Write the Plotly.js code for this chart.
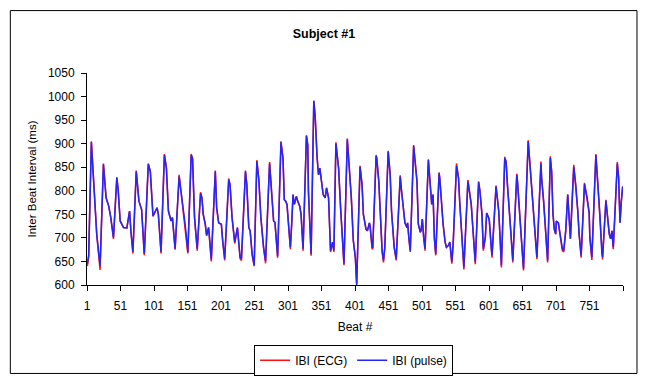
<!DOCTYPE html>
<html>
<head>
<meta charset="utf-8">
<script src="https://cdn.plot.ly/plotly-3.0.1.min.js"></script>
<style>html,body{margin:0;padding:0;background:#fff;}#chart{width:648px;height:388px;}</style>
</head>
<body>
<div id="chart"></div>
<script>
const beatNumbers = [
  1,3,7,15,20,25,29,33,36,39,
  40,45,47,50,55,60,64,66,69,74,
  78,82,86,92,95,99,101,105,107,111,
  116,119,122,126,128,132,138,142,146,147,
  151,156,158,161,165,170,172,174,177,179,
  182,183,186,192,194,197,201,203,206,212,
  214,217,221,225,229,231,237,239,242,244,
  247,250,254,257,260,264,267,273,276,279,
  281,284,285,290,293,295,297,299,301,304,
  306,308,310,313,315,318,320,323,328,330,
  331,334,335,339,341,344,346,348,351,353,
  356,358,361,362,364,367,369,372,376,379,
  382,384,389,392,395,398,401,403,408,411,
  413,417,419,422,423,426,427,432,433,436,
  438,439,441,443,445,450,453,455,458,459,
  462,468,470,473,475,478,479,481,483,488,
  490,493,495,498,499,501,503,505,510,513,
  515,517,519,521,526,527,530,532,535,537,
  540,542,545,547,552,555,557,560,562,563,
  569,571,574,576,580,585,587,590,592,595,
  597,600,601,604,605,611,613,615,617,619,
  624,626,628,631,633,636,642,643,647,649,
  652,659,661,663,666,668,671,672,678,679,
  682,684,687,688,692,694,696,698,700,701,
  704,705,708,710,712,715,718,720,722,727,
  730,733,735,738,743,745,747,750,751,754,
  760,761,764,766,769,770,775,777,780,782,
  784,786,792,794,796,798,800
];

const ibiPulse = [
  645,663,903,708,640,856,785,767,743,708,
  701,827,802,736,722,721,757,715,670,841,
  778,760,666,856,841,746,753,764,750,670,
  876,848,757,736,743,677,830,785,740,729,
  670,876,869,743,677,795,785,750,729,705,
  722,705,654,841,764,732,729,694,656,823,
  813,743,691,722,659,656,841,813,722,715,
  666,642,863,823,743,680,651,858,790,736,
  733,677,661,903,869,781,778,771,729,680,
  729,792,771,788,778,767,750,677,916,897,
  799,673,666,991,959,869,834,848,813,792,
  785,806,785,729,673,691,673,900,848,764,
  687,645,909,848,785,694,659,600,851,813,
  750,718,715,732,725,680,680,874,869,820,
  764,729,673,652,680,883,834,757,708,680,
  656,830,799,757,732,722,732,698,673,895,
  869,820,729,712,715,740,701,677,865,813,
  771,792,698,666,837,827,764,729,691,680,
  684,691,649,687,853,827,771,700,659,638,
  820,799,771,729,649,818,799,750,677,701,
  753,743,736,677,663,809,778,757,701,642,
  869,862,813,760,715,652,834,820,736,694,
  635,905,869,817,760,729,670,659,858,827,
  778,729,659,652,870,841,750,718,708,736,
  732,722,701,677,673,715,792,743,698,851,
  813,757,708,663,814,799,785,753,701,659,
  876,855,799,750,666,659,779,753,708,698,
  715,680,858,827,732,778,809
];

const ibiEcg = [
  640,660,905,708,632,858,785,767,743,706,
  698,829,802,736,722,721,757,715,667,843,
  778,760,663,858,841,746,753,764,750,667,
  878,848,757,736,743,675,834,785,740,729,
  667,878,869,743,673,797,785,750,729,705,
  722,705,650,843,764,732,729,694,652,826,
  813,743,688,722,656,652,843,813,722,715,
  663,640,865,823,743,680,646,861,790,736,
  733,675,658,905,869,781,778,771,729,676,
  729,792,771,788,778,767,750,673,918,897,
  799,669,662,991,959,869,834,848,813,792,
  785,806,785,729,670,691,670,903,848,764,
  687,642,911,848,785,694,657,602,853,813,
  750,718,715,732,725,677,677,876,869,820,
  764,729,670,648,680,885,834,757,708,680,
  652,833,799,757,732,722,732,698,670,897,
  869,820,729,712,715,740,701,673,867,813,
  771,792,698,663,839,827,764,729,691,680,
  684,691,645,687,858,827,771,700,655,633,
  823,799,771,729,644,820,799,750,673,701,
  753,743,736,677,658,811,778,757,701,637,
  872,862,813,760,715,648,836,820,736,694,
  631,907,869,817,760,729,666,655,862,827,
  778,729,656,648,873,841,750,718,708,736,
  732,722,701,673,670,715,792,743,698,855,
  813,757,708,658,817,799,785,753,701,653,
  878,855,799,750,662,654,781,753,708,698,
  715,676,861,827,732,778,809
];

const xTickLabels = ['1','51','101','151','201','251','301','351','401','451','501','551','601','651','701','751'];
const yTickValues = [600,650,700,750,800,850,900,950,1000,1050];
const seriesNames = ['IBI (ECG)', 'IBI (pulse)'];
const chartTitle = 'Subject #1';
const xTitle = 'Beat #';
const yTitle = 'Inter Beat Interval (ms)';

// category boundaries (Excel-style ticks between categories)
const xTickVals = xTickLabels.map(s => parseInt(s, 10) - 0.5).concat([beatNumbers[beatNumbers.length-1] + 0.5]);
const xTickText = xTickLabels.concat(['']);

const font = 'Arial, "Liberation Sans", sans-serif';

const traces = [
  {x: beatNumbers, y: ibiEcg, name: seriesNames[0], type: 'scatter', mode: 'lines',
   line: {color: '#FF1010', width: 1.5}},
  {x: beatNumbers, y: ibiPulse, name: seriesNames[1], type: 'scatter', mode: 'lines',
   line: {color: '#2424FF', width: 1.5}}
];

const L = 86.7, R = 623, T = 73.3, B = 288.3;
const pw = R - L, ph = B - T;
const px = v => (v - L) / pw;
const py = v => (B - v) / ph;

const layout = {
  width: 648, height: 388,
  margin: {l: L, r: 648 - R, t: T, b: 388 - B, pad: 0},
  paper_bgcolor: '#ffffff', plot_bgcolor: '#ffffff',
  font: {family: font, size: 12, color: '#000000'},
  title: {text: '<b>' + chartTitle + '</b>', x: 0.5, xref: 'container', xanchor: 'center',
          y: 1 - 34/388, yref: 'container', yanchor: 'middle', font: {family: font, size: 12.5, color: '#000'}},
  xaxis: {
    range: [0.5, 800.5], tickmode: 'array', tickvals: xTickVals, ticktext: xTickText,
    ticks: 'outside', ticklen: 5, tickcolor: '#000', tickwidth: 1,
    showline: true, linecolor: '#000', linewidth: 1, showgrid: false, zeroline: false,
    tickfont: {family: font, size: 12}, ticklabelstandoff: 5,
    title: {text: xTitle, standoff: 10, font: {family: font, size: 12}}
  },
  yaxis: {
    range: [600, 1050], tickmode: 'array', tickvals: yTickValues,
    ticks: 'outside', ticklen: 5, tickcolor: '#000', tickwidth: 1,
    showline: true, linecolor: '#000', linewidth: 1, showgrid: false, zeroline: false,
    tickfont: {family: font, size: 12}, ticklabelstandoff: 4,
    title: {text: yTitle, standoff: 8, font: {family: font, size: 11.5}}
  },
  showlegend: true,
  legend: {
    orientation: 'h', x: px(353.5), xanchor: 'center', y: py(349), yanchor: 'top',
    bordercolor: '#000', borderwidth: 1, bgcolor: '#fff',
    font: {family: font, size: 12}, itemwidth: 30, tracegroupgap: 0
  },
  shapes: [
    {type: 'rect', xref: 'paper', yref: 'paper', x0: px(10), x1: px(637), y0: py(378), y1: py(10),
     line: {color: '#000', width: 1}, fillcolor: 'rgba(0,0,0,0)', layer: 'below'}
  ]
};

Plotly.newPlot('chart', traces, layout, {staticPlot: true, displayModeBar: false});
</script>
</body>
</html>
